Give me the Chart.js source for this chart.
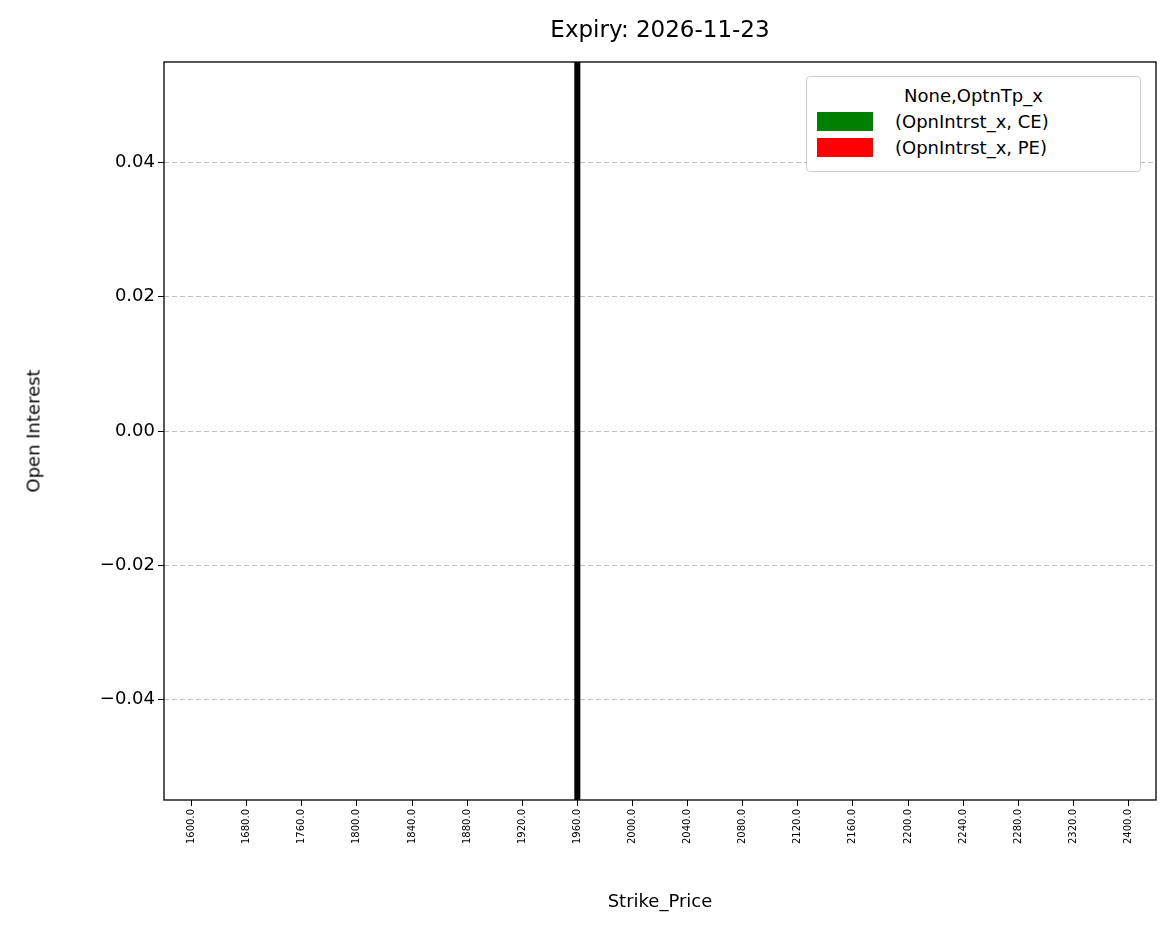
<!DOCTYPE html>
<html><head><meta charset="utf-8">
<script src="https://cdn.jsdelivr.net/npm/chart.js@4"></script>
<style>
body{margin:0;background:#fff;font-family:"DejaVu Sans",sans-serif;}
#wrap{position:relative;width:1175px;height:939px;}
#title{position:absolute;top:16px;left:164px;width:992px;text-align:center;font-size:23px;}
#xt{position:absolute;top:890px;left:164px;width:992px;text-align:center;font-size:18px;}
#yt{position:absolute;left:33px;top:431px;transform:translate(-50%,-50%) rotate(-90deg);font-size:18px;white-space:nowrap;}
#legend{position:absolute;top:76px;left:806px;width:313px;background:#fff;border:1px solid #ccc;border-radius:4px;padding:8px 10px 8px 10px;font-size:18px;}
#legend .t{text-align:center;margin-bottom:4px;}
#legend .r{display:flex;align-items:center;margin:5px 0;}
#legend .s{width:56px;height:19px;margin-right:22px;}
</style></head><body>
<div id="wrap"><canvas id="c" width="1175" height="939"></canvas>
<div id="title">Expiry: 2026-11-23</div>
<div id="xt">Strike_Price</div>
<div id="yt">Open Interest</div>
<div id="legend"><div class="t">None,OptnTp_x</div>
<div class="r"><div class="s" style="background:green"></div>(OpnIntrst_x, CE)</div>
<div class="r"><div class="s" style="background:red"></div>(OpnIntrst_x, PE)</div></div>
</div>
<script>
const categories=["1600.0","1680.0","1760.0","1800.0","1840.0","1880.0","1920.0","1960.0","2000.0","2040.0","2080.0","2120.0","2160.0","2200.0","2240.0","2280.0","2320.0","2400.0"];
const ceValues=[0,0,0,0,0,0,0,0,0,0,0,0,0,0,0,0,0,0];
const peValues=[0,0,0,0,0,0,0,0,0,0,0,0,0,0,0,0,0,0];
const yTicks=[-0.04,-0.02,0,0.02,0.04];
const markerStrike="1960.0";
const extras={id:'extras',afterDatasetsDraw(ch){const c=ch.ctx,a=ch.chartArea;const x=ch.scales.x.getPixelForValue(categories.indexOf(markerStrike));
c.save();c.strokeStyle='#000';c.lineWidth=6;c.beginPath();c.moveTo(x,a.top);c.lineTo(x,a.bottom);c.stroke();
c.lineWidth=1.3;c.strokeRect(a.left,a.top,a.right-a.left,a.bottom-a.top);c.restore();}};
new Chart(document.getElementById('c'),{type:'bar',
data:{labels:categories,datasets:[{label:'(OpnIntrst_x, CE)',data:ceValues,backgroundColor:'green'},{label:'(OpnIntrst_x, PE)',data:peValues,backgroundColor:'red'}]},
options:{responsive:false,animation:false,layout:{padding:{left:0,right:19,top:62,bottom:0}},
plugins:{legend:{display:false},tooltip:{enabled:false}},
scales:{x:{afterFit:s=>{s.height=139;},grid:{offset:false,drawOnChartArea:false,tickLength:6,color:'#000'},border:{display:false},
ticks:{color:'#000',font:{size:10,family:'DejaVu Sans'},minRotation:90,maxRotation:90,autoSkip:false}},
y:{min:-0.055,max:0.055,afterFit:s=>{s.width=164;},afterBuildTicks:s=>{s.ticks=yTicks.map(v=>({value:v}));},
grid:{color:'rgba(0,0,0,0.25)',tickColor:'#000',tickLength:6,drawTicks:true},border:{display:false,dash:[5,3]},
ticks:{color:'#000',font:{size:18,family:'DejaVu Sans'},callback:v=>(v<0?'\u2212':'')+Math.abs(v).toFixed(2)}}}},
plugins:[extras]});
</script></body></html>
